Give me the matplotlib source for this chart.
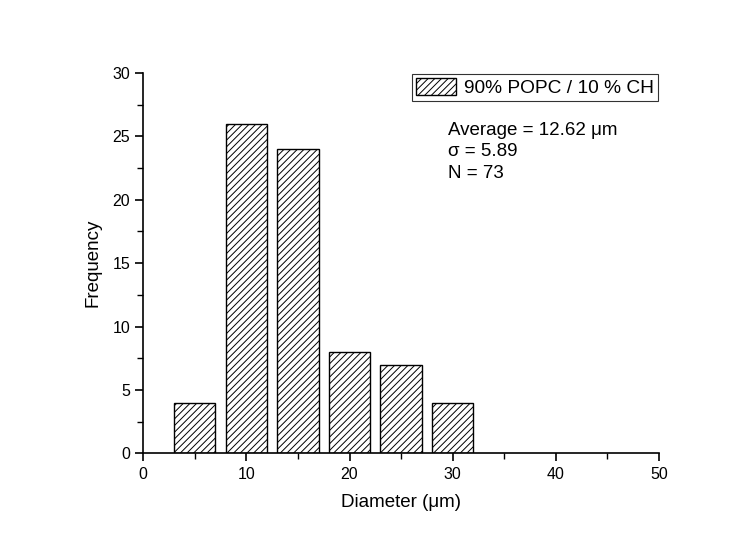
import matplotlib
matplotlib.use("Agg")
import matplotlib.pyplot as plt
from matplotlib.patches import Patch
from matplotlib.ticker import MultipleLocator

plt.rcParams['font.family'] = ['Liberation Sans', 'DejaVu Sans']
plt.rcParams['hatch.linewidth'] = 0.7

bin_centers = [5, 10, 15, 20, 25, 30]
frequency = [4, 26, 24, 8, 7, 4]
series_label = "90% POPC / 10 % CH"
stats_lines = ["Average = 12.62 μm", "σ = 5.89", "N = 73"]

fig = plt.figure(figsize=(7.54, 5.36), dpi=100)
ax = fig.add_axes([0.190, 0.154, 0.684, 0.710])

ax.bar(bin_centers, frequency, width=4.0, color='white', edgecolor='black',
       hatch='/////', linewidth=1.0)

ax.set_xlim(0, 50)
ax.set_ylim(0, 30)
ax.xaxis.set_major_locator(MultipleLocator(10))
ax.xaxis.set_minor_locator(MultipleLocator(5))
ax.yaxis.set_major_locator(MultipleLocator(5))
ax.yaxis.set_minor_locator(MultipleLocator(2.5))
ax.tick_params(which='major', direction='out', length=6, width=1.2, labelsize=11.5)
ax.tick_params(which='minor', direction='out', length=4, width=1.0)
for s in ['top', 'right']:
    ax.spines[s].set_visible(False)
for s in ['left', 'bottom']:
    ax.spines[s].set_linewidth(1.2)

ax.set_xlabel("Diameter (μm)", fontsize=13.5, labelpad=9)
ax.set_ylabel("Frequency", fontsize=13.5, labelpad=8)

handle = Patch(facecolor='white', edgecolor='black', hatch='/////', linewidth=1.0)
leg = ax.legend([handle], [series_label], loc='upper right',
                bbox_to_anchor=(1.0, 1.0), fontsize=13.8, frameon=True,
                fancybox=False, edgecolor='black', handlelength=2.1,
                handleheight=0.95, borderpad=0.2, handletextpad=0.4,
                borderaxespad=0.07)
leg.get_frame().set_linewidth(0.8)

ax.text(0.590, 0.872, "\n".join(stats_lines), transform=ax.transAxes,
        fontsize=13.5, va='top', ha='left', linespacing=1.36)

fig.savefig("out.png", dpi=100)
